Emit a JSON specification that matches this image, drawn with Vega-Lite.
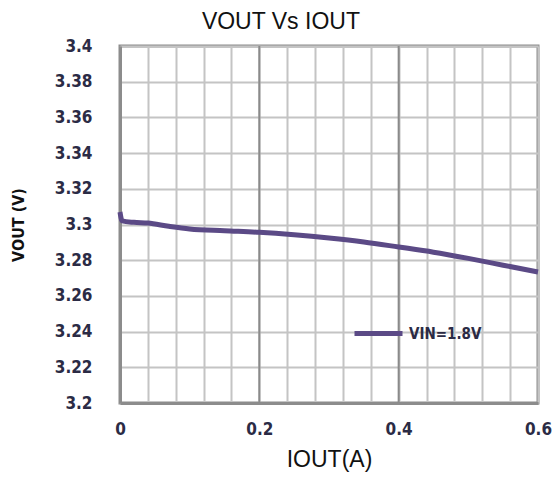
{
  "$schema": "https://vega.github.io/schema/vega-lite/v6.json",
  "autosize": "none",
  "width": 418,
  "height": 357,
  "padding": {"left": 120, "top": 46, "right": 17, "bottom": 76},
  "background": "white",
  "title": {"text": "VOUT Vs IOUT", "font": "Liberation Sans", "fontSize": 23, "fontWeight": "normal", "color": "#111", "offset": 3, "anchor": "middle", "frame": "bounds"},
  "config": {
    "view": {"stroke": "#8c8c8c", "strokeWidth": 3},
    "axis": {
      "gridColor": "#c4c4c4", "gridWidth": 2, "gridOpacity": 1,
      "domainColor": "#8c8c8c", "domainWidth": 3,
      "ticks": false, "labelOverlap": false,
      "labelFont": "'DejaVu Sans Condensed', 'Liberation Sans Narrow', 'Roboto Condensed', 'DejaVu Sans', sans-serif",
      "labelFontWeight": "bold", "labelFontSize": 17, "labelColor": "#2b2b45",
      "titleColor": "#111"
    }
  },
  "datasets": {
    "curve": [
      {"iout": 0.0, "vout": 3.307, "series": "VIN=1.8V"},
      {"iout": 0.003, "vout": 3.302, "series": "VIN=1.8V"},
      {"iout": 0.02, "vout": 3.3012, "series": "VIN=1.8V"},
      {"iout": 0.04, "vout": 3.3008, "series": "VIN=1.8V"},
      {"iout": 0.07, "vout": 3.299, "series": "VIN=1.8V"},
      {"iout": 0.1, "vout": 3.2975, "series": "VIN=1.8V"},
      {"iout": 0.15, "vout": 3.2965, "series": "VIN=1.8V"},
      {"iout": 0.2, "vout": 3.2956, "series": "VIN=1.8V"},
      {"iout": 0.25, "vout": 3.2942, "series": "VIN=1.8V"},
      {"iout": 0.3, "vout": 3.2924, "series": "VIN=1.8V"},
      {"iout": 0.35, "vout": 3.2902, "series": "VIN=1.8V"},
      {"iout": 0.4, "vout": 3.2874, "series": "VIN=1.8V"},
      {"iout": 0.45, "vout": 3.2845, "series": "VIN=1.8V"},
      {"iout": 0.5, "vout": 3.281, "series": "VIN=1.8V"},
      {"iout": 0.55, "vout": 3.2772, "series": "VIN=1.8V"},
      {"iout": 0.6, "vout": 3.2734, "series": "VIN=1.8V"}
    ],
    "major": [{"iout": 0.2}, {"iout": 0.4}]
  },
  "layer": [
    {
      "data": {"name": "major"},
      "mark": {"type": "rule", "color": "#8a8a8a", "strokeWidth": 2},
      "encoding": {
        "x": {
          "field": "iout", "type": "quantitative",
          "scale": {"domain": [0, 0.6], "nice": false},
          "axis": {
            "title": "IOUT(A)", "titleFont": "Liberation Sans", "titleFontSize": 23, "titleFontWeight": "normal", "titlePadding": 11,
            "values": [0, 0.04, 0.08, 0.12, 0.16, 0.2, 0.24, 0.28, 0.32, 0.36, 0.4, 0.44, 0.48, 0.52, 0.56, 0.6],
            "labelExpr": "abs(datum.value*5 - round(datum.value*5)) < 0.001 ? format(datum.value, '.1~f') : ''",
            "labelPadding": 18, "labelFlush": false
          }
        }
      }
    },
    {
      "data": {"name": "curve"},
      "mark": {"type": "line", "strokeWidth": 5, "interpolate": "monotone"},
      "encoding": {
        "x": {
          "field": "iout", "type": "quantitative",
          "scale": {"domain": [0, 0.6], "nice": false},
          "axis": {
            "title": "IOUT(A)", "titleFont": "Liberation Sans", "titleFontSize": 23, "titleFontWeight": "normal", "titlePadding": 11,
            "values": [0, 0.04, 0.08, 0.12, 0.16, 0.2, 0.24, 0.28, 0.32, 0.36, 0.4, 0.44, 0.48, 0.52, 0.56, 0.6],
            "labelExpr": "abs(datum.value*5 - round(datum.value*5)) < 0.001 ? format(datum.value, '.1~f') : ''",
            "labelPadding": 18, "labelFlush": false
          }
        },
        "y": {
          "field": "vout", "type": "quantitative",
          "scale": {"domain": [3.2, 3.4], "nice": false, "zero": false},
          "axis": {
            "title": "VOUT (V)",
            "titleFont": "'DejaVu Sans Condensed', 'Liberation Sans Narrow', 'Roboto Condensed', 'DejaVu Sans', sans-serif",
            "titleFontSize": 16, "titleFontWeight": "bold", "titlePadding": 28,
            "values": [3.2, 3.22, 3.24, 3.26, 3.28, 3.3, 3.32, 3.34, 3.36, 3.38, 3.4],
            "format": ".2~f", "labelPadding": 28
          }
        },
        "color": {
          "field": "series", "type": "nominal",
          "scale": {"range": ["#5b4a86"]},
          "legend": {
            "title": null, "orient": "none", "legendX": 232, "legendY": 261,
            "symbolType": "stroke", "symbolSize": 2304, "symbolStrokeWidth": 5,
            "labelFont": "'DejaVu Sans Condensed', 'Liberation Sans Narrow', 'Roboto Condensed', 'DejaVu Sans', sans-serif",
            "labelFontWeight": "bold", "labelFontSize": 15, "labelColor": "#2b2b45",
            "labelOffset": 4, "padding": 0
          }
        }
      }
    }
  ]
}
